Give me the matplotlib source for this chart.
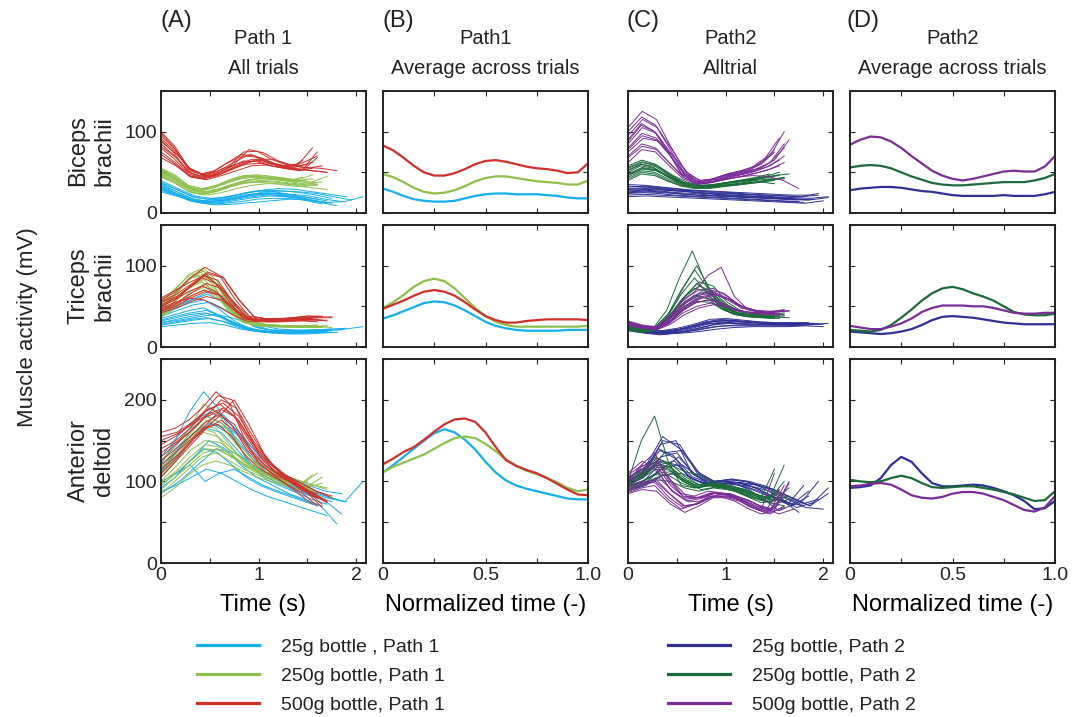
import numpy as np
import matplotlib
matplotlib.use('Agg')
from matplotlib import pyplot as plt
from matplotlib.lines import Line2D

plt.rcParams['font.family'] = ['Liberation Sans', 'DejaVu Sans']
TEXT = '#222222'
plt.rcParams['text.color'] = TEXT
plt.rcParams['axes.edgecolor'] = TEXT
plt.rcParams['xtick.color'] = TEXT
plt.rcParams['ytick.color'] = TEXT

# colours per condition
C25_P1, C250_P1, C500_P1 = '#16AEEA', '#8DC04C', '#D0302B'
C25_P2, C250_P2, C500_P2 = '#2E3192', '#1B6B3A', '#7A2C97'

legend_p1 = ['25g bottle , Path 1', '250g bottle, Path 1', '500g bottle, Path 1']
legend_p2 = ['25g bottle, Path 2', '250g bottle, Path 2', '500g bottle, Path 2']

# ---------------- Path 1, all trials ----------------
# each trial: 12 samples spread evenly over its duration (s)
p1_bic_25_dur = [1.6, 1.7, 1.75, 1.8, 1.85, 1.65, 1.9, 2.07, 1.55, 1.75, 1.95, 1.7]
p1_bic_25 = [
    [36, 27, 18, 15, 17, 21, 25, 27, 26, 23, 20, 17],
    [32, 24, 16, 13, 14, 17, 20, 22, 22, 20, 16, 12],
    [38, 29, 20, 17, 19, 23, 27, 28, 27, 25, 22, 18],
    [28, 21, 14, 11, 12, 14, 17, 18, 18, 16, 13, 9],
    [34, 26, 17, 14, 16, 20, 23, 24, 23, 21, 17, 14],
    [30, 22, 15, 13, 15, 18, 21, 23, 22, 19, 15, 11],
    [40, 30, 21, 18, 20, 24, 28, 30, 29, 26, 23, 20],
    [26, 20, 13, 10, 11, 13, 15, 17, 16, 13, 14, 20],
    [33, 25, 17, 14, 15, 19, 22, 24, 24, 22, 19, 15],
    [29, 23, 16, 12, 13, 16, 19, 21, 20, 18, 15, 12],
    [37, 28, 19, 16, 18, 22, 26, 27, 26, 24, 20, 16],
    [31, 24, 16, 13, 15, 18, 22, 25, 24, 21, 18, 15],
]
p1_bic_250_dur = [1.45, 1.5, 1.55, 1.6, 1.65, 1.7, 1.55, 1.6, 1.5, 1.6, 1.7, 1.45]
p1_bic_250 = [
    [52, 44, 32, 28, 32, 38, 43, 45, 44, 42, 40, 44],
    [46, 38, 27, 23, 26, 32, 36, 38, 37, 35, 33, 32],
    [55, 47, 34, 30, 34, 41, 46, 47, 45, 42, 41, 47],
    [48, 40, 29, 25, 29, 35, 40, 42, 41, 39, 36, 35],
    [50, 42, 30, 26, 30, 36, 41, 43, 43, 40, 37, 38],
    [44, 36, 25, 22, 25, 30, 34, 36, 36, 34, 31, 29],
    [53, 45, 33, 29, 33, 39, 44, 46, 45, 43, 40, 42],
    [47, 39, 28, 24, 27, 33, 38, 40, 39, 37, 35, 37],
    [51, 43, 31, 27, 31, 37, 42, 44, 43, 41, 38, 41],
    [45, 37, 26, 23, 27, 33, 37, 39, 38, 36, 34, 34],
    [49, 41, 30, 26, 30, 36, 41, 44, 42, 40, 38, 45],
    [54, 46, 33, 28, 31, 38, 44, 46, 44, 41, 39, 40],
]
p1_bic_500_dur = [1.5, 1.55, 1.6, 1.65, 1.7, 1.8, 1.55, 1.6, 1.45, 1.6, 1.7, 1.55]
p1_bic_500 = [
    [98, 80, 55, 48, 52, 62, 72, 70, 62, 58, 56, 60],
    [85, 70, 50, 44, 48, 56, 64, 63, 58, 55, 52, 55],
    [75, 62, 46, 42, 47, 55, 60, 61, 57, 54, 53, 68],
    [92, 75, 52, 46, 50, 60, 78, 74, 64, 58, 55, 58],
    [68, 58, 44, 41, 46, 52, 58, 59, 56, 54, 52, 50],
    [88, 72, 51, 45, 50, 58, 66, 66, 60, 56, 55, 52],
    [80, 66, 48, 43, 48, 57, 63, 64, 60, 58, 60, 80],
    [95, 78, 54, 47, 51, 61, 70, 68, 61, 57, 62, 70],
    [90, 74, 52, 45, 50, 60, 68, 72, 66, 58, 55, 65],
    [72, 60, 45, 42, 46, 54, 62, 65, 60, 55, 54, 75],
    [82, 68, 49, 44, 49, 58, 66, 64, 58, 54, 52, 50],
    [100, 82, 56, 48, 51, 58, 75, 76, 66, 60, 58, 62],
]

p1_tri_25_dur = [1.6, 1.7, 1.75, 1.8, 1.85, 1.65, 1.9, 2.07, 1.7, 1.8, 1.6, 1.75]
p1_tri_25 = [
    [35, 40, 45, 48, 40, 30, 23, 20, 19, 19, 20, 21],
    [28, 31, 34, 36, 32, 25, 20, 18, 17, 17, 18, 19],
    [42, 50, 58, 65, 55, 37, 25, 21, 20, 20, 21, 22],
    [25, 27, 29, 30, 27, 22, 19, 17, 16, 16, 17, 18],
    [38, 45, 52, 55, 45, 32, 23, 20, 19, 20, 21, 21],
    [32, 36, 40, 42, 37, 28, 21, 19, 18, 18, 19, 20],
    [45, 52, 60, 70, 58, 39, 26, 22, 21, 21, 22, 23],
    [30, 33, 37, 40, 35, 27, 21, 20, 19, 20, 22, 25],
    [33, 38, 42, 45, 38, 28, 21, 19, 18, 18, 19, 20],
    [27, 30, 33, 35, 31, 25, 20, 18, 17, 17, 18, 18],
    [40, 47, 54, 58, 48, 34, 24, 20, 19, 19, 20, 21],
    [30, 34, 38, 41, 36, 28, 22, 19, 18, 18, 19, 20],
]
p1_tri_250_dur = [1.5, 1.55, 1.6, 1.65, 1.7, 1.75, 1.6, 1.65, 1.55, 1.6, 1.7, 1.65]
p1_tri_250 = [
    [45, 62, 82, 92, 75, 48, 32, 27, 26, 25, 25, 25],
    [40, 55, 72, 80, 65, 42, 30, 26, 25, 25, 24, 24],
    [52, 70, 90, 97, 80, 50, 33, 28, 27, 26, 26, 27],
    [38, 50, 66, 74, 60, 40, 29, 26, 25, 24, 24, 25],
    [48, 66, 85, 88, 70, 45, 31, 27, 26, 26, 25, 26],
    [43, 58, 76, 86, 72, 46, 31, 27, 25, 25, 25, 24],
    [55, 72, 88, 93, 74, 47, 32, 28, 27, 26, 26, 27],
    [36, 48, 62, 70, 58, 40, 29, 26, 25, 25, 25, 25],
    [47, 64, 84, 95, 78, 49, 32, 27, 26, 25, 25, 26],
    [42, 57, 74, 83, 68, 44, 30, 26, 25, 25, 25, 25],
    [50, 68, 86, 90, 72, 46, 31, 27, 26, 26, 25, 26],
    [39, 52, 68, 78, 64, 42, 30, 26, 25, 25, 24, 24],
]
p1_tri_500_dur = [1.55, 1.6, 1.65, 1.7, 1.75, 1.6, 1.65, 1.7, 1.6, 1.65, 1.75, 1.55]
p1_tri_500 = [
    [50, 58, 72, 85, 78, 55, 36, 33, 33, 34, 35, 35],
    [45, 52, 62, 70, 65, 48, 34, 32, 32, 33, 34, 34],
    [58, 68, 85, 98, 88, 60, 38, 35, 35, 36, 38, 37],
    [42, 48, 56, 62, 58, 44, 33, 31, 31, 32, 33, 33],
    [55, 62, 76, 90, 85, 58, 37, 34, 34, 35, 36, 36],
    [48, 55, 60, 58, 50, 40, 32, 31, 31, 32, 32, 31],
    [60, 70, 80, 88, 75, 52, 35, 33, 34, 36, 38, 38],
    [46, 54, 66, 78, 72, 52, 35, 32, 32, 33, 34, 32],
    [52, 60, 74, 88, 82, 57, 37, 34, 34, 35, 36, 36],
    [44, 50, 60, 68, 64, 48, 34, 32, 32, 33, 34, 33],
    [56, 65, 78, 92, 86, 59, 37, 34, 35, 36, 37, 37],
    [50, 58, 68, 75, 68, 50, 35, 33, 33, 34, 35, 34],
]

p1_del_25_dur = [1.6, 1.7, 1.75, 1.8, 1.85, 1.65, 1.9, 2.07, 1.7, 1.8, 1.6, 1.85]
p1_del_25 = [
    [120, 150, 185, 210, 190, 160, 128, 110, 100, 92, 85, 80],
    [88, 95, 105, 115, 110, 100, 90, 82, 76, 70, 64, 58],
    [110, 135, 165, 180, 170, 150, 125, 108, 98, 90, 82, 75],
    [100, 110, 128, 150, 140, 120, 105, 95, 85, 78, 70, 48],
    [130, 155, 175, 185, 175, 155, 130, 112, 102, 95, 88, 85],
    [95, 110, 120, 100, 110, 115, 105, 95, 88, 82, 75, 70],
    [115, 140, 160, 170, 165, 150, 130, 112, 100, 90, 80, 75],
    [85, 100, 120, 140, 135, 120, 105, 95, 88, 80, 75, 100],
    [105, 125, 150, 165, 160, 140, 118, 102, 94, 86, 78, 72],
    [125, 145, 170, 190, 180, 155, 128, 110, 100, 92, 84, 78],
    [92, 105, 125, 140, 135, 120, 105, 95, 88, 82, 76, 70],
    [112, 138, 160, 172, 160, 140, 118, 102, 92, 84, 76, 60],
]
p1_del_250_dur = [1.5, 1.55, 1.6, 1.65, 1.7, 1.55, 1.6, 1.65, 1.55, 1.6, 1.7, 1.65]
p1_del_250 = [
    [105, 125, 145, 165, 160, 140, 122, 112, 105, 100, 95, 100],
    [85, 100, 115, 130, 135, 125, 115, 108, 102, 96, 90, 88],
    [125, 145, 165, 195, 185, 155, 130, 118, 110, 104, 98, 110],
    [95, 110, 125, 140, 138, 128, 118, 110, 104, 98, 92, 80],
    [115, 135, 155, 175, 168, 145, 125, 115, 108, 102, 96, 90],
    [80, 92, 108, 120, 125, 120, 112, 105, 100, 95, 90, 95],
    [110, 130, 150, 160, 155, 140, 125, 115, 108, 100, 94, 85],
    [100, 118, 138, 150, 148, 135, 120, 112, 106, 100, 94, 105],
    [108, 128, 148, 168, 165, 145, 125, 114, 106, 100, 95, 108],
    [90, 105, 120, 135, 140, 130, 118, 110, 104, 98, 92, 85],
    [118, 140, 160, 180, 172, 150, 128, 116, 108, 102, 96, 92],
    [98, 112, 130, 145, 142, 130, 118, 110, 104, 98, 92, 98],
]
p1_del_500_dur = [1.55, 1.6, 1.65, 1.7, 1.75, 1.6, 1.65, 1.7, 1.6, 1.65, 1.7, 1.75]
p1_del_500 = [
    [160, 165, 175, 190, 210, 195, 155, 125, 110, 98, 85, 72],
    [120, 135, 150, 165, 170, 155, 130, 115, 105, 95, 85, 70],
    [140, 150, 165, 185, 195, 180, 150, 125, 110, 100, 88, 78],
    [105, 125, 145, 165, 175, 160, 135, 118, 106, 96, 84, 74],
    [150, 158, 170, 182, 190, 175, 145, 122, 108, 98, 88, 82],
    [130, 145, 160, 178, 185, 168, 140, 120, 108, 100, 90, 85],
    [115, 130, 148, 165, 180, 200, 170, 135, 112, 98, 86, 68],
    [135, 148, 162, 180, 200, 190, 158, 128, 110, 98, 86, 75],
    [145, 155, 168, 185, 205, 200, 165, 130, 112, 100, 88, 80],
    [125, 140, 155, 172, 182, 170, 142, 122, 108, 98, 88, 72],
    [110, 128, 148, 170, 188, 178, 148, 124, 110, 98, 86, 76],
    [155, 160, 172, 188, 196, 180, 148, 124, 108, 98, 88, 80],
]

# ---------------- Path 2, all trials ----------------
p2_bic_25_dur = [1.7, 1.8, 1.85, 1.9, 1.95, 2.0, 2.05, 1.75, 1.85, 1.95, 2.05, 1.8]
p2_bic_25 = [
    [30, 31, 30, 28, 26, 24, 23, 22, 21, 20, 19, 18],
    [22, 23, 22, 21, 20, 19, 18, 17, 16, 15, 14, 13],
    [35, 34, 32, 30, 28, 27, 26, 25, 24, 23, 22, 22],
    [26, 27, 26, 24, 22, 21, 20, 19, 18, 17, 16, 17],
    [32, 33, 31, 29, 27, 26, 25, 23, 22, 21, 20, 24],
    [20, 21, 20, 19, 18, 17, 16, 15, 14, 13, 12, 15],
    [28, 29, 28, 27, 25, 24, 23, 22, 20, 19, 18, 20],
    [24, 25, 24, 22, 21, 20, 19, 18, 17, 16, 15, 14],
    [27, 28, 27, 25, 24, 22, 21, 20, 19, 18, 17, 16],
    [33, 32, 30, 28, 27, 25, 24, 23, 22, 21, 20, 22],
    [25, 26, 25, 23, 22, 21, 20, 19, 18, 17, 16, 19],
    [29, 30, 29, 27, 26, 24, 22, 21, 20, 19, 18, 17],
]
p2_bic_250_dur = [1.45, 1.5, 1.55, 1.6, 1.65, 1.5, 1.55, 1.6, 1.5, 1.55, 1.6, 1.45]
p2_bic_250 = [
    [50, 58, 55, 45, 37, 33, 33, 35, 37, 39, 42, 45],
    [42, 50, 48, 40, 34, 31, 31, 33, 34, 36, 38, 40],
    [58, 65, 60, 48, 38, 34, 34, 37, 40, 42, 45, 50],
    [46, 54, 52, 43, 35, 32, 32, 34, 36, 38, 40, 43],
    [55, 62, 58, 47, 38, 34, 35, 38, 40, 43, 46, 48],
    [40, 48, 46, 39, 33, 30, 30, 32, 34, 36, 38, 36],
    [52, 60, 57, 46, 37, 33, 33, 36, 38, 40, 43, 47],
    [48, 56, 53, 44, 36, 32, 33, 35, 37, 40, 42, 42],
    [44, 52, 50, 42, 35, 31, 32, 34, 35, 37, 39, 42],
    [56, 63, 59, 47, 38, 34, 34, 37, 39, 41, 44, 46],
    [47, 55, 52, 43, 36, 32, 32, 34, 36, 38, 41, 44],
    [53, 60, 56, 46, 37, 33, 34, 36, 38, 41, 44, 48],
]
p2_bic_500_dur = [1.5, 1.55, 1.6, 1.6, 1.65, 1.55, 1.6, 1.75, 1.55, 1.6, 1.5, 1.6]
p2_bic_500 = [
    [90, 110, 100, 75, 48, 38, 40, 45, 48, 52, 60, 75],
    [70, 85, 80, 62, 44, 36, 38, 42, 46, 50, 56, 65],
    [105, 125, 115, 82, 52, 40, 42, 48, 52, 58, 70, 100],
    [80, 98, 92, 70, 47, 37, 39, 44, 48, 52, 62, 85],
    [95, 115, 105, 78, 50, 39, 41, 46, 50, 55, 65, 90],
    [62, 78, 75, 58, 42, 35, 37, 41, 44, 48, 52, 58],
    [85, 105, 98, 74, 49, 38, 41, 46, 50, 54, 62, 80],
    [75, 92, 88, 68, 46, 37, 40, 44, 46, 45, 40, 30],
    [100, 118, 108, 80, 51, 39, 41, 47, 51, 56, 68, 92],
    [68, 82, 78, 60, 43, 36, 38, 42, 45, 49, 54, 62],
    [88, 108, 100, 76, 49, 38, 40, 45, 49, 53, 61, 78],
    [78, 95, 90, 70, 47, 37, 39, 44, 48, 52, 58, 70],
]

p2_tri_25_dur = [1.75, 1.8, 1.85, 1.9, 1.95, 2.0, 2.05, 1.7, 1.8, 1.9, 2.0, 1.75]
p2_tri_25 = [
    [25, 21, 18, 20, 25, 30, 32, 31, 30, 29, 28, 28],
    [20, 17, 15, 17, 20, 24, 26, 26, 26, 26, 26, 27],
    [28, 23, 20, 23, 28, 34, 35, 33, 31, 30, 30, 30],
    [22, 18, 16, 18, 22, 27, 29, 28, 28, 28, 27, 28],
    [26, 22, 19, 22, 27, 32, 33, 31, 30, 29, 29, 29],
    [21, 18, 16, 17, 19, 22, 24, 25, 25, 25, 26, 25],
    [24, 20, 17, 19, 24, 29, 31, 30, 29, 28, 28, 29],
    [23, 19, 17, 19, 23, 28, 30, 29, 28, 28, 27, 27],
    [24, 20, 17, 19, 23, 28, 30, 29, 28, 28, 28, 28],
    [27, 22, 19, 22, 26, 31, 33, 31, 30, 29, 29, 29],
    [22, 18, 16, 18, 21, 25, 27, 27, 27, 27, 27, 28],
    [25, 21, 18, 20, 25, 31, 34, 32, 30, 29, 28, 28],
]
p2_tri_250_dur = [1.45, 1.5, 1.55, 1.6, 1.5, 1.55, 1.6, 1.65, 1.5, 1.55, 1.6, 1.5]
p2_tri_250 = [
    [25, 20, 24, 45, 85, 118, 80, 52, 42, 38, 37, 36],
    [22, 19, 22, 38, 65, 85, 65, 48, 40, 37, 36, 35],
    [26, 21, 25, 42, 72, 100, 70, 50, 42, 39, 38, 38],
    [23, 19, 21, 32, 50, 62, 58, 46, 40, 38, 37, 37],
    [24, 20, 23, 36, 58, 72, 68, 52, 43, 40, 39, 40],
    [21, 18, 20, 30, 45, 56, 55, 45, 40, 37, 36, 35],
    [27, 22, 24, 40, 62, 80, 75, 55, 44, 40, 39, 42],
    [22, 19, 22, 34, 55, 68, 62, 48, 41, 38, 37, 36],
    [24, 20, 23, 40, 70, 95, 72, 50, 42, 38, 37, 37],
    [23, 19, 22, 36, 60, 78, 66, 50, 42, 39, 38, 38],
    [25, 21, 24, 38, 62, 75, 68, 52, 43, 40, 39, 40],
    [22, 18, 21, 33, 52, 64, 60, 47, 40, 38, 37, 36],
]
p2_tri_500_dur = [1.5, 1.55, 1.6, 1.6, 1.65, 1.55, 1.6, 1.5, 1.55, 1.6, 1.5, 1.65]
p2_tri_500 = [
    [30, 26, 24, 35, 55, 68, 88, 98, 62, 46, 42, 42],
    [28, 24, 22, 30, 45, 55, 58, 52, 45, 42, 41, 40],
    [32, 27, 25, 38, 60, 70, 72, 62, 50, 45, 44, 45],
    [26, 23, 21, 28, 40, 48, 52, 50, 44, 41, 40, 39],
    [30, 25, 23, 33, 50, 62, 65, 58, 48, 44, 43, 44],
    [27, 24, 22, 29, 42, 50, 54, 50, 44, 42, 41, 41],
    [31, 26, 24, 36, 56, 66, 68, 60, 48, 44, 43, 46],
    [29, 25, 23, 32, 47, 58, 62, 55, 46, 43, 42, 42],
    [29, 25, 23, 34, 52, 62, 70, 66, 52, 45, 43, 43],
    [31, 26, 24, 35, 54, 64, 66, 58, 48, 44, 43, 44],
    [27, 24, 22, 30, 44, 54, 58, 54, 46, 43, 42, 41],
    [30, 25, 23, 33, 50, 60, 64, 58, 48, 44, 43, 45],
]

p2_del_25_dur = [1.8, 1.85, 1.9, 1.95, 2.0, 2.05, 1.75, 1.7, 1.85, 1.95, 2.05, 1.8]
p2_del_25 = [
    [95, 105, 145, 150, 110, 98, 100, 98, 92, 82, 72, 95],
    [100, 110, 125, 120, 102, 96, 98, 95, 88, 78, 70, 82],
    [90, 98, 115, 130, 108, 100, 102, 100, 92, 80, 68, 74],
    [105, 118, 155, 140, 112, 100, 103, 100, 94, 84, 74, 100],
    [88, 95, 108, 110, 100, 94, 96, 94, 88, 78, 68, 66],
    [98, 108, 135, 138, 108, 97, 99, 96, 90, 80, 70, 85],
    [92, 100, 120, 125, 104, 96, 98, 96, 90, 82, 76, 62],
    [102, 112, 140, 132, 106, 98, 100, 98, 90, 78, 64, 72],
    [96, 108, 130, 135, 108, 98, 100, 98, 90, 80, 72, 88],
    [100, 112, 150, 145, 110, 100, 102, 99, 92, 82, 72, 78],
    [94, 102, 118, 120, 104, 96, 98, 96, 90, 80, 70, 92],
    [104, 115, 138, 128, 106, 98, 101, 98, 92, 82, 74, 70],
]
p2_del_250_dur = [1.5, 1.55, 1.6, 1.65, 1.55, 1.6, 1.5, 1.65, 1.55, 1.6, 1.5, 1.65]
p2_del_250 = [
    [100, 150, 180, 125, 95, 92, 95, 92, 88, 82, 78, 85],
    [95, 105, 118, 115, 100, 92, 95, 93, 88, 80, 75, 80],
    [105, 112, 125, 120, 112, 108, 100, 95, 90, 84, 80, 120],
    [90, 98, 105, 110, 98, 90, 93, 92, 88, 80, 72, 78],
    [100, 108, 122, 118, 102, 94, 96, 94, 90, 84, 78, 90],
    [88, 95, 102, 100, 92, 88, 92, 90, 86, 80, 74, 70],
    [98, 110, 130, 122, 104, 96, 97, 94, 90, 85, 80, 115],
    [92, 100, 110, 112, 100, 93, 96, 94, 90, 82, 76, 82],
    [96, 104, 115, 114, 100, 93, 96, 94, 90, 82, 76, 86],
    [102, 110, 128, 122, 106, 96, 98, 95, 90, 84, 78, 100],
    [94, 100, 108, 108, 98, 92, 95, 93, 88, 81, 74, 76],
    [99, 108, 120, 116, 102, 95, 97, 95, 90, 83, 77, 92],
]
p2_del_500_dur = [1.5, 1.55, 1.6, 1.6, 1.65, 1.55, 1.6, 1.7, 1.55, 1.6, 1.65, 1.5]
p2_del_500 = [
    [100, 120, 135, 105, 85, 82, 88, 86, 80, 70, 65, 110],
    [90, 95, 100, 85, 70, 72, 80, 82, 78, 68, 62, 75],
    [110, 125, 115, 90, 78, 80, 86, 85, 78, 70, 64, 95],
    [85, 90, 88, 72, 62, 70, 80, 80, 75, 66, 60, 70],
    [105, 115, 125, 100, 82, 80, 86, 84, 78, 70, 66, 100],
    [95, 100, 98, 80, 68, 72, 82, 84, 78, 68, 62, 72],
    [100, 110, 120, 95, 80, 80, 85, 84, 78, 70, 64, 85],
    [88, 96, 105, 88, 75, 76, 84, 83, 77, 68, 60, 66],
    [102, 118, 128, 100, 82, 80, 86, 85, 79, 70, 64, 90],
    [92, 98, 102, 84, 70, 73, 82, 82, 77, 68, 62, 68],
    [108, 120, 112, 88, 76, 79, 86, 85, 78, 70, 65, 98],
    [86, 92, 95, 78, 66, 72, 81, 81, 76, 67, 60, 64],
]

# ---------------- averages across trials, normalized time 0..1 step 0.05 ----------------
norm_time = [0.0, 0.05, 0.1, 0.15, 0.2, 0.25, 0.3, 0.35, 0.4, 0.45, 0.5,
             0.55, 0.6, 0.65, 0.7, 0.75, 0.8, 0.85, 0.9, 0.95, 1.0]

avg_p1_bic_25 = [30, 26, 21, 17, 15, 14, 14, 15, 18, 21, 23, 24, 24, 23, 23, 23, 22, 21, 19, 18, 18]
avg_p1_bic_250 = [48, 44, 38, 31, 26, 24, 25, 28, 33, 39, 43, 45, 45, 43, 41, 39, 38, 37, 35, 35, 40]
avg_p1_bic_500 = [83, 77, 68, 58, 50, 46, 46, 49, 54, 60, 64, 65, 63, 60, 57, 55, 54, 52, 49, 50, 61]

avg_p1_tri_25 = [35, 39, 44, 49, 54, 56, 55, 51, 45, 38, 31, 26, 23, 21, 20, 20, 20, 20, 21, 21, 21]
avg_p1_tri_250 = [48, 55, 64, 74, 81, 84, 81, 72, 60, 48, 38, 31, 27, 25, 25, 25, 25, 25, 25, 25, 26]
avg_p1_tri_500 = [47, 52, 57, 63, 68, 70, 68, 63, 55, 46, 38, 33, 30, 30, 32, 33, 34, 34, 34, 34, 33]

avg_p1_del_25 = [111, 120, 130, 140, 150, 159, 164, 160, 151, 139, 124, 111, 101, 95, 91, 88, 85, 82, 79, 78, 78]
avg_p1_del_250 = [111, 118, 123, 128, 133, 140, 147, 153, 155, 153, 146, 137, 127, 119, 113, 109, 104, 99, 92, 88, 90]
avg_p1_del_500 = [121, 128, 136, 142, 151, 161, 170, 176, 177, 173, 160, 142, 126, 119, 114, 110, 104, 97, 90, 84, 83]

avg_p2_bic_25 = [28, 30, 31, 32, 32, 31, 29, 27, 26, 24, 22, 21, 21, 21, 21, 22, 21, 21, 21, 23, 26]
avg_p2_bic_250 = [56, 58, 59, 58, 55, 50, 45, 41, 37, 35, 34, 34, 35, 36, 37, 38, 38, 38, 40, 43, 48]
avg_p2_bic_500 = [84, 90, 94, 93, 88, 80, 70, 61, 52, 46, 42, 40, 42, 45, 48, 51, 52, 51, 51, 57, 70]

avg_p2_tri_25 = [19, 18, 17, 16, 17, 19, 22, 27, 33, 37, 38, 37, 36, 34, 32, 30, 29, 28, 28, 28, 28]
avg_p2_tri_250 = [21, 20, 19, 21, 27, 36, 46, 57, 66, 72, 74, 71, 66, 62, 57, 50, 43, 40, 39, 39, 41]
avg_p2_tri_500 = [26, 24, 22, 22, 25, 29, 35, 43, 48, 51, 51, 51, 50, 50, 48, 45, 42, 41, 41, 42, 42]

avg_p2_del_25 = [92, 93, 95, 104, 120, 130, 124, 110, 98, 94, 94, 95, 96, 95, 92, 88, 83, 76, 66, 67, 76]
avg_p2_del_250 = [102, 100, 99, 100, 104, 107, 104, 98, 93, 92, 93, 94, 94, 92, 90, 87, 84, 80, 76, 77, 88]
avg_p2_del_500 = [94, 95, 97, 98, 96, 90, 83, 80, 79, 81, 85, 87, 87, 85, 81, 77, 71, 65, 63, 68, 82]


def draw_trials(ax, groups):
    for trials, durations, color in groups:
        for vals, dur in zip(trials, durations):
            t = np.linspace(0, dur, len(vals))
            ax.plot(t, vals, color=color, lw=0.7)


def draw_avgs(ax, groups):
    for vals, color in groups:
        ax.plot(norm_time, vals, color=color, lw=1.6)


def style(ax, ymax, show_y, show_x, normalized):
    ax.set_ylim(0, ymax)
    yt = np.arange(0, ymax + 1, 50)
    ax.set_yticks(yt)
    ax.set_yticklabels([str(int(v)) if (v % 100 == 0 and show_y) else '' for v in yt])
    if normalized:
        ax.set_xlim(0, 1)
        ax.set_xticks([0, 0.25, 0.5, 0.75, 1.0])
        xl = ['0', '', '0.5', '', '1.0']
    else:
        ax.set_xlim(0, 2.1)
        ax.set_xticks([0, 0.5, 1, 1.5, 2])
        xl = ['0', '', '1', '', '2']
    ax.set_xticklabels(xl if show_x else [''] * 5)
    ax.tick_params(direction='in', top=True, right=True, length=3.5, width=0.8,
                   labelsize=14, pad=3)
    for s in ax.spines.values():
        s.set_linewidth(1.4)
    if show_x:
        ax.set_xlabel('Normalized time (-)' if normalized else 'Time (s)',
                      fontsize=17, labelpad=7)


W, H = 1083, 717
fig = plt.figure(figsize=(W / 100, H / 100), dpi=100)

col_left = [161, 383, 628, 850]
col_w = 205
row_top = [91, 225, 359]
row_h = [122, 122, 204]
row_ymax = [150, 150, 250]

path1_trials = [
    [(p1_bic_25, p1_bic_25_dur, C25_P1), (p1_bic_250, p1_bic_250_dur, C250_P1), (p1_bic_500, p1_bic_500_dur, C500_P1)],
    [(p1_tri_25, p1_tri_25_dur, C25_P1), (p1_tri_250, p1_tri_250_dur, C250_P1), (p1_tri_500, p1_tri_500_dur, C500_P1)],
    [(p1_del_25, p1_del_25_dur, C25_P1), (p1_del_250, p1_del_250_dur, C250_P1), (p1_del_500, p1_del_500_dur, C500_P1)],
]
path2_trials = [
    [(p2_bic_25, p2_bic_25_dur, C25_P2), (p2_bic_250, p2_bic_250_dur, C250_P2), (p2_bic_500, p2_bic_500_dur, C500_P2)],
    [(p2_tri_25, p2_tri_25_dur, C25_P2), (p2_tri_250, p2_tri_250_dur, C250_P2), (p2_tri_500, p2_tri_500_dur, C500_P2)],
    [(p2_del_25, p2_del_25_dur, C25_P2), (p2_del_250, p2_del_250_dur, C250_P2), (p2_del_500, p2_del_500_dur, C500_P2)],
]
path1_avgs = [
    [(avg_p1_bic_25, C25_P1), (avg_p1_bic_250, C250_P1), (avg_p1_bic_500, C500_P1)],
    [(avg_p1_tri_25, C25_P1), (avg_p1_tri_250, C250_P1), (avg_p1_tri_500, C500_P1)],
    [(avg_p1_del_25, C25_P1), (avg_p1_del_250, C250_P1), (avg_p1_del_500, C500_P1)],
]
path2_avgs = [
    [(avg_p2_bic_25, C25_P2), (avg_p2_bic_250, C250_P2), (avg_p2_bic_500, C500_P2)],
    [(avg_p2_tri_25, C25_P2), (avg_p2_tri_250, C250_P2), (avg_p2_tri_500, C500_P2)],
    [(avg_p2_del_25, C25_P2), (avg_p2_del_250, C250_P2), (avg_p2_del_500, C500_P2)],
]

for r in range(3):
    for c in range(4):
        ax = fig.add_axes([col_left[c] / W, 1 - (row_top[r] + row_h[r]) / H,
                           col_w / W, row_h[r] / H])
        if c == 0:
            draw_trials(ax, path1_trials[r])
        elif c == 1:
            draw_avgs(ax, path1_avgs[r])
        elif c == 2:
            draw_trials(ax, path2_trials[r])
        else:
            draw_avgs(ax, path2_avgs[r])
        style(ax, row_ymax[r], show_y=(c == 0), show_x=(r == 2), normalized=(c % 2 == 1))

# column headers
letters = ['(A)', '(B)', '(C)', '(D)']
letter_x = [160, 382, 626, 847]
titles = [('Path 1', 'All trials'), ('Path1', 'Average across trials'),
          ('Path2', 'Alltrial'), ('Path2', 'Average across trials')]
for c in range(4):
    fig.text(letter_x[c] / W, 1 - 21 / H, letters[c], fontsize=17, ha='left', va='center')
    cx = (col_left[c] + col_w / 2) / W
    fig.text(cx, 1 - 39 / H, titles[c][0], fontsize=14.5, ha='center', va='center')
    fig.text(cx, 1 - 68 / H, titles[c][1], fontsize=14.5, ha='center', va='center')

# row labels
row_names = ['Biceps\nbrachii', 'Triceps\nbrachii', 'Anterior\ndeltoid']
row_label_y = [151, 286, 461]
for name, y in zip(row_names, row_label_y):
    fig.text(115 / W, 1 - y / H, name, fontsize=17, rotation=90, ha='right',
             va='center', multialignment='center', linespacing=1.2)
fig.text(28 / W, 1 - 327 / H, 'Muscle activity (mV)', fontsize=16, rotation=90,
         ha='center', va='center')

# legends
h1 = [Line2D([], [], color=col, lw=2.3) for col in (C25_P1, C250_P1, C500_P1)]
h2 = [Line2D([], [], color=col, lw=2.3) for col in (C25_P2, C250_P2, C500_P2)]
for handles, labels, x in [(h1, legend_p1, 197), (h2, legend_p2, 668)]:
    fig.legend(handles, labels, loc='center left', bbox_to_anchor=(x / W, 1 - 676 / H),
               frameon=False, fontsize=14, handlelength=3.2, handletextpad=1.1,
               labelspacing=0.58, borderpad=0, borderaxespad=0)

fig.savefig('out.png', dpi=100)
